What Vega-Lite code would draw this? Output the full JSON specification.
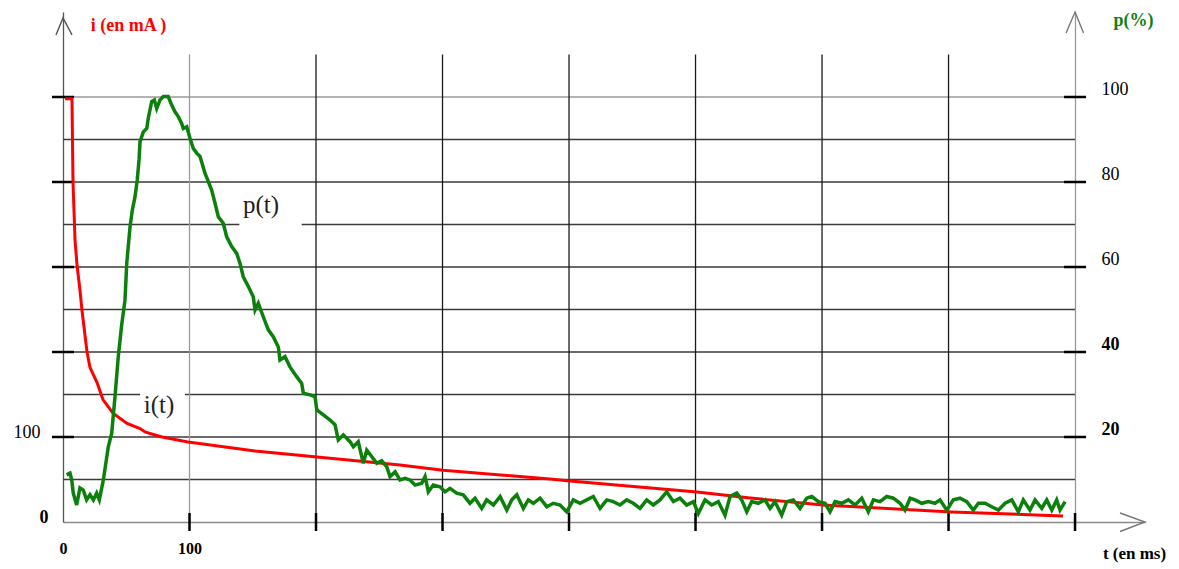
{
  "$schema": "https://vega.github.io/schema/vega-lite/v6.json",
  "width": 1082,
  "height": 510,
  "autosize": {"type": "none"},
  "padding": {"left": 63, "top": 12, "right": 34, "bottom": 47},
  "background": "white",
  "config": {"view": {"stroke": null}},
  "datasets": {
    "hgrid": [
      {"p": 10, "t0": 0, "t1": 800}, {"p": 20, "t0": 0, "t1": 800},
      {"p": 30, "t0": 0, "t1": 60.9}, {"p": 30, "t0": 96.4, "t1": 800},
      {"p": 40, "t0": 0, "t1": 800}, {"p": 50, "t0": 0, "t1": 800},
      {"p": 60, "t0": 0, "t1": 800},
      {"p": 70, "t0": 0, "t1": 139.4}, {"p": 70, "t0": 188.7, "t1": 800},
      {"p": 80, "t0": 0, "t1": 800}, {"p": 90, "t0": 0, "t1": 800},
      {"p": 100, "t0": 0, "t1": 800}
    ],
    "vgrid": [{"t": 100}, {"t": 200}, {"t": 300}, {"t": 400}, {"t": 500}, {"t": 600}, {"t": 700}],
    "pticks": [{"p": 20}, {"p": 40}, {"p": 60}, {"p": 80}, {"p": 100}],
    "tticks": [{"t": 100}, {"t": 200}, {"t": 300}, {"t": 400}, {"t": 500}, {"t": 600}, {"t": 700}, {"t": 800}],
    "labels": [{"t": 156.5, "p": 74.6, "label": "p(t)"}, {"t": 75.9, "p": 27.5, "label": "i(t)"}],
    "current": [
      {"t": 1.6, "i": 498}, {"t": 7.1, "i": 498}, {"t": 7.9, "i": 400}, {"t": 9.5, "i": 332},
      {"t": 11.1, "i": 302}, {"t": 13.4, "i": 273}, {"t": 15.0, "i": 249}, {"t": 19.0, "i": 200},
      {"t": 21.3, "i": 182}, {"t": 26.9, "i": 164}, {"t": 31.6, "i": 144}, {"t": 39.5, "i": 128},
      {"t": 50.6, "i": 116}, {"t": 60.9, "i": 110}, {"t": 64.8, "i": 106}, {"t": 72.7, "i": 102.4},
      {"t": 78.3, "i": 100}, {"t": 98.8, "i": 94.1}, {"t": 151.8, "i": 83.5}, {"t": 200.8, "i": 76.5},
      {"t": 266.4, "i": 67}, {"t": 300.4, "i": 61}, {"t": 384.9, "i": 50.6}, {"t": 400.8, "i": 48.2},
      {"t": 501.2, "i": 35.3}, {"t": 543.1, "i": 28.2}, {"t": 600.8, "i": 20}, {"t": 702.4, "i": 11.8},
      {"t": 790.5, "i": 7.1}
    ],
    "power": [
      {"t": 2.9, "p": 11.1}, {"t": 5.5, "p": 11.5}, {"t": 6.9, "p": 9.9}, {"t": 8.1, "p": 6.8},
      {"t": 10.8, "p": 4.0}, {"t": 13.4, "p": 8.0}, {"t": 16.0, "p": 7.5}, {"t": 18.7, "p": 5.2},
      {"t": 21.3, "p": 6.4}, {"t": 24.0, "p": 5.2}, {"t": 26.6, "p": 6.8}, {"t": 28.7, "p": 5.2},
      {"t": 31.9, "p": 9.9}, {"t": 35.8, "p": 17.7}, {"t": 38.5, "p": 20.9}, {"t": 41.1, "p": 29.5},
      {"t": 43.7, "p": 38.9}, {"t": 46.4, "p": 46.4}, {"t": 49.0, "p": 52.2}, {"t": 50.4, "p": 60.9},
      {"t": 53.0, "p": 69.5}, {"t": 54.8, "p": 73.4}, {"t": 56.9, "p": 76.5}, {"t": 58.7, "p": 80.5},
      {"t": 60.1, "p": 85.2}, {"t": 60.9, "p": 89.5}, {"t": 63.5, "p": 91.8}, {"t": 66.2, "p": 92.6},
      {"t": 67.4, "p": 95.0}, {"t": 70.1, "p": 98.9}, {"t": 72.2, "p": 99.3}, {"t": 74.1, "p": 97.3},
      {"t": 76.7, "p": 99.3}, {"t": 79.3, "p": 100.1}, {"t": 83.2, "p": 100.1}, {"t": 85.9, "p": 98.1},
      {"t": 88.5, "p": 96.5}, {"t": 91.1, "p": 95.4}, {"t": 93.8, "p": 93.8}, {"t": 95.1, "p": 92.6},
      {"t": 97.8, "p": 93.0}, {"t": 100.4, "p": 90.3}, {"t": 103.0, "p": 87.9}, {"t": 105.7, "p": 86.8},
      {"t": 108.3, "p": 86.0}, {"t": 112.3, "p": 82.0}, {"t": 117.5, "p": 78.1}, {"t": 120.2, "p": 75.0},
      {"t": 122.8, "p": 71.8}, {"t": 126.7, "p": 70.3}, {"t": 129.4, "p": 67.1}, {"t": 133.4, "p": 64.8},
      {"t": 137.3, "p": 63.2}, {"t": 139.9, "p": 60.9}, {"t": 142.5, "p": 57.7}, {"t": 146.5, "p": 55.4},
      {"t": 150.4, "p": 53.0}, {"t": 151.8, "p": 49.9}, {"t": 154.4, "p": 51.5}, {"t": 158.3, "p": 48.3},
      {"t": 162.3, "p": 45.2}, {"t": 166.2, "p": 43.6}, {"t": 170.2, "p": 41.2}, {"t": 171.5, "p": 38.1},
      {"t": 175.5, "p": 38.9}, {"t": 179.4, "p": 36.5}, {"t": 184.7, "p": 34.2}, {"t": 188.7, "p": 32.6},
      {"t": 190.0, "p": 30.3}, {"t": 195.3, "p": 29.9}, {"t": 199.2, "p": 29.5}, {"t": 200.6, "p": 26.4},
      {"t": 205.8, "p": 25.2}, {"t": 211.1, "p": 24.0}, {"t": 215.0, "p": 22.9}, {"t": 217.6, "p": 19.3},
      {"t": 221.6, "p": 20.5}, {"t": 226.9, "p": 18.9}, {"t": 229.5, "p": 17.7}, {"t": 233.4, "p": 18.9},
      {"t": 237.4, "p": 13.8}, {"t": 240.1, "p": 16.9}, {"t": 244.0, "p": 15.4}, {"t": 248.0, "p": 13.8},
      {"t": 251.9, "p": 14.4}, {"t": 255.9, "p": 13.0}, {"t": 258.5, "p": 10.7}, {"t": 262.5, "p": 11.8},
      {"t": 266.4, "p": 9.9}, {"t": 270.4, "p": 10.3}, {"t": 274.3, "p": 9.9}, {"t": 278.3, "p": 8.7},
      {"t": 283.6, "p": 9.1}, {"t": 286.2, "p": 10.7}, {"t": 288.8, "p": 7.1}, {"t": 292.7, "p": 8.7},
      {"t": 298.0, "p": 8.3}, {"t": 302.0, "p": 7.1}, {"t": 305.9, "p": 7.9}, {"t": 311.2, "p": 6.8},
      {"t": 316.4, "p": 6.4}, {"t": 321.7, "p": 4.4}, {"t": 325.7, "p": 5.6}, {"t": 331.0, "p": 3.2},
      {"t": 334.9, "p": 5.2}, {"t": 340.2, "p": 4.0}, {"t": 345.5, "p": 6.0}, {"t": 350.8, "p": 2.8},
      {"t": 354.7, "p": 5.2}, {"t": 358.7, "p": 6.4}, {"t": 363.9, "p": 3.2}, {"t": 367.8, "p": 5.2},
      {"t": 371.8, "p": 4.4}, {"t": 377.1, "p": 5.6}, {"t": 382.4, "p": 3.6}, {"t": 387.6, "p": 4.4},
      {"t": 392.9, "p": 4.0}, {"t": 398.2, "p": 2.4}, {"t": 403.4, "p": 5.2}, {"t": 408.7, "p": 4.4},
      {"t": 414.0, "p": 5.2}, {"t": 419.2, "p": 6.0}, {"t": 424.5, "p": 3.2}, {"t": 429.8, "p": 5.2},
      {"t": 435.0, "p": 4.8}, {"t": 440.3, "p": 4.0}, {"t": 445.6, "p": 5.2}, {"t": 450.8, "p": 4.4},
      {"t": 456.1, "p": 3.2}, {"t": 461.4, "p": 5.2}, {"t": 466.6, "p": 4.0}, {"t": 471.9, "p": 5.2},
      {"t": 477.2, "p": 7.1}, {"t": 482.5, "p": 4.8}, {"t": 487.7, "p": 5.6}, {"t": 493.0, "p": 4.0},
      {"t": 498.3, "p": 4.8}, {"t": 502.2, "p": 2.0}, {"t": 507.5, "p": 5.2}, {"t": 512.8, "p": 4.0},
      {"t": 518.0, "p": 4.8}, {"t": 523.3, "p": 1.6}, {"t": 527.3, "p": 6.0}, {"t": 532.6, "p": 6.8},
      {"t": 536.5, "p": 5.2}, {"t": 540.5, "p": 2.4}, {"t": 544.4, "p": 4.8}, {"t": 549.6, "p": 4.4},
      {"t": 554.9, "p": 5.2}, {"t": 558.9, "p": 3.2}, {"t": 562.8, "p": 4.8}, {"t": 568.1, "p": 1.6},
      {"t": 572.1, "p": 4.8}, {"t": 577.3, "p": 5.2}, {"t": 582.6, "p": 3.2}, {"t": 587.9, "p": 5.6},
      {"t": 591.9, "p": 6.0}, {"t": 597.1, "p": 4.8}, {"t": 602.4, "p": 4.4}, {"t": 606.3, "p": 2.4},
      {"t": 610.3, "p": 4.8}, {"t": 615.6, "p": 4.4}, {"t": 620.8, "p": 5.2}, {"t": 626.1, "p": 4.0},
      {"t": 631.4, "p": 5.6}, {"t": 636.6, "p": 2.4}, {"t": 640.6, "p": 5.2}, {"t": 645.8, "p": 4.8},
      {"t": 651.1, "p": 6.0}, {"t": 656.4, "p": 5.6}, {"t": 661.7, "p": 4.4}, {"t": 665.6, "p": 2.8},
      {"t": 669.6, "p": 5.6}, {"t": 673.5, "p": 5.2}, {"t": 678.8, "p": 4.4}, {"t": 684.0, "p": 4.8},
      {"t": 689.3, "p": 4.4}, {"t": 693.3, "p": 5.2}, {"t": 698.6, "p": 2.8}, {"t": 703.8, "p": 5.2},
      {"t": 709.1, "p": 5.6}, {"t": 714.4, "p": 4.8}, {"t": 719.6, "p": 2.8}, {"t": 723.6, "p": 4.4},
      {"t": 728.9, "p": 4.4}, {"t": 734.1, "p": 3.6}, {"t": 739.4, "p": 2.8}, {"t": 744.7, "p": 4.4},
      {"t": 750.0, "p": 5.2}, {"t": 755.2, "p": 2.4}, {"t": 759.1, "p": 5.2}, {"t": 764.4, "p": 2.8},
      {"t": 768.4, "p": 5.2}, {"t": 773.7, "p": 3.2}, {"t": 777.6, "p": 5.2}, {"t": 781.6, "p": 2.8},
      {"t": 785.5, "p": 5.2}, {"t": 788.1, "p": 2.8}, {"t": 792.1, "p": 4.8}
    ]
  },
  "resolve": {"scale": {"y": "independent"}, "axis": {"x": "independent", "y": "independent"}},
  "layer": [
    {
      "data": {"name": "hgrid"},
      "mark": {"type": "rule", "strokeWidth": 1.3},
      "encoding": {
        "x": {"field": "t0", "type": "quantitative", "scale": {"domain": [0, 855.3], "nice": false, "zero": false},
          "axis": {"title": "t (en ms)", "values": [0, 100], "grid": false, "ticks": false, "tickSize": 0,
            "domain": true, "domainColor": "#8a8a8a", "domainWidth": 1.5,
            "labelFont": "Liberation Serif", "labelFontSize": 16, "labelFontWeight": "bold", "labelColor": "#000",
            "labelPadding": 18, "labelFlush": false,
            "titleFont": "Liberation Serif", "titleFontSize": 17, "titleFontWeight": "bold", "titleColor": "#000",
            "titleX": 1071, "titleY": 31, "titleAlign": "center", "titleBaseline": "middle"}},
        "x2": {"field": "t1"},
        "y": {"field": "p", "type": "quantitative", "scale": {"domain": [0, 120], "nice": false},
          "axis": {"orient": "right", "offset": -70, "title": "p(%)", "values": [20, 40, 60, 80, 100],
            "grid": false, "ticks": false, "tickSize": 0, "domainColor": "#999", "domainWidth": 1.3,
            "labelFont": "Liberation Serif", "labelFontSize": 18, "labelColor": "#000", "labelPadding": 26,
            "labelOffset": -8, "labelAlign": "left",
            "labelFontWeight": {"condition": {"test": "datum.value <= 40", "value": "bold"}, "value": "normal"},
            "titleFont": "Liberation Serif", "titleFontSize": 18, "titleFontWeight": "bold", "titleColor": "#118011",
            "titleAngle": 0, "titleX": 58, "titleY": 8, "titleAlign": "center", "titleBaseline": "middle"}},
        "color": {"condition": {"test": "datum.p == 100", "value": "#9a9a9a"}, "value": "#3a3a3a"}
      }
    },
    {
      "data": {"name": "vgrid"},
      "mark": {"type": "rule", "strokeWidth": 1.3},
      "encoding": {
        "x": {"field": "t", "type": "quantitative", "scale": {"domain": [0, 855.3], "nice": false, "zero": false}, "axis": null},
        "y": {"datum": 0, "type": "quantitative", "scale": {"domain": [0, 120], "nice": false}, "axis": null},
        "y2": {"datum": 110},
        "color": {"condition": {"test": "datum.t == 100", "value": "#9a9a9a"}, "value": "#1a1a1a"}
      }
    },
    {
      "data": {"name": "pticks"},
      "mark": {"type": "point", "shape": "stroke", "size": 484, "color": "#000", "strokeWidth": 2.5, "opacity": 1},
      "encoding": {
        "x": {"datum": 0, "type": "quantitative", "scale": {"domain": [0, 855.3], "nice": false, "zero": false}, "axis": null},
        "y": {"field": "p", "type": "quantitative", "scale": {"domain": [0, 120], "nice": false}, "axis": null}
      }
    },
    {
      "data": {"name": "pticks"},
      "mark": {"type": "point", "shape": "stroke", "size": 484, "color": "#000", "strokeWidth": 2.5, "opacity": 1},
      "encoding": {
        "x": {"datum": 800, "type": "quantitative", "scale": {"domain": [0, 855.3], "nice": false, "zero": false}, "axis": null},
        "y": {"field": "p", "type": "quantitative", "scale": {"domain": [0, 120], "nice": false}, "axis": null}
      }
    },
    {
      "data": {"name": "tticks"},
      "mark": {"type": "point", "shape": "M0,-1L0,1", "size": 324, "color": "#000", "strokeWidth": 2.5, "opacity": 1},
      "encoding": {
        "x": {"field": "t", "type": "quantitative", "scale": {"domain": [0, 855.3], "nice": false, "zero": false}, "axis": null},
        "y": {"datum": 0, "type": "quantitative", "scale": {"domain": [0, 120], "nice": false}, "axis": null}
      }
    },
    {
      "data": {"values": [{}]},
      "mark": {"type": "point", "shape": "M-0.7,1.7L0,0L0.9,1.7", "size": 400, "color": "#555", "strokeWidth": 1.4, "opacity": 1},
      "encoding": {
        "x": {"datum": 0, "type": "quantitative", "scale": {"domain": [0, 855.3], "nice": false, "zero": false}, "axis": null},
        "y": {"datum": 118.6, "type": "quantitative", "scale": {"domain": [0, 120], "nice": false}, "axis": null}
      }
    },
    {
      "data": {"values": [{}]},
      "mark": {"type": "point", "shape": "M-0.9,2.1L0,0L0.85,2.1", "size": 400, "color": "#777", "strokeWidth": 1.4, "opacity": 1},
      "encoding": {
        "x": {"datum": 800, "type": "quantitative", "scale": {"domain": [0, 855.3], "nice": false, "zero": false}, "axis": null},
        "y": {"datum": 120, "type": "quantitative", "scale": {"domain": [0, 120], "nice": false}, "axis": null}
      }
    },
    {
      "data": {"values": [{}]},
      "mark": {"type": "point", "shape": "M-2.5,-0.9L0,0L-2.5,0.95", "size": 400, "color": "#777", "strokeWidth": 1.4, "opacity": 1},
      "encoding": {
        "x": {"datum": 855.3, "type": "quantitative", "scale": {"domain": [0, 855.3], "nice": false, "zero": false}, "axis": null},
        "y": {"datum": 0, "type": "quantitative", "scale": {"domain": [0, 120], "nice": false}, "axis": null}
      }
    },
    {
      "data": {"name": "labels"},
      "mark": {"type": "text", "font": "Liberation Serif", "fontSize": 25, "color": "#222", "align": "center", "baseline": "middle"},
      "encoding": {
        "x": {"field": "t", "type": "quantitative", "scale": {"domain": [0, 855.3], "nice": false, "zero": false}, "axis": null},
        "y": {"field": "p", "type": "quantitative", "scale": {"domain": [0, 120], "nice": false}, "axis": null},
        "text": {"field": "label"}
      }
    },
    {
      "data": {"name": "current"},
      "mark": {"type": "line", "color": "#ff0000", "strokeWidth": 3},
      "encoding": {
        "x": {"field": "t", "type": "quantitative", "scale": {"domain": [0, 855.3], "nice": false, "zero": false}, "axis": null},
        "y": {"field": "i", "type": "quantitative", "scale": {"domain": [0, 600], "nice": false},
          "axis": {"orient": "left", "title": "i (en mA )", "values": [0, 100], "grid": false, "ticks": false, "tickSize": 0,
            "domainColor": "#555", "domainWidth": 1.3,
            "labelFont": "Liberation Serif", "labelFontSize": 18, "labelColor": "#000",
            "labelPadding": {"condition": {"test": "datum.value == 0", "value": 15}, "value": 23},
            "labelOffset": -5,
            "labelFontWeight": {"condition": {"test": "datum.value == 0", "value": "bold"}, "value": "normal"},
            "titleFont": "Liberation Serif", "titleFontSize": 18, "titleFontWeight": "bold", "titleColor": "#ff0000",
            "titleAngle": 0, "titleX": 65, "titleY": 13, "titleAlign": "center", "titleBaseline": "middle"}}
      }
    },
    {
      "data": {"name": "power"},
      "mark": {"type": "line", "color": "#0b800b", "strokeWidth": 3.5},
      "encoding": {
        "x": {"field": "t", "type": "quantitative", "scale": {"domain": [0, 855.3], "nice": false, "zero": false}, "axis": null},
        "y": {"field": "p", "type": "quantitative", "scale": {"domain": [0, 120], "nice": false}, "axis": null}
      }
    }
  ]
}
